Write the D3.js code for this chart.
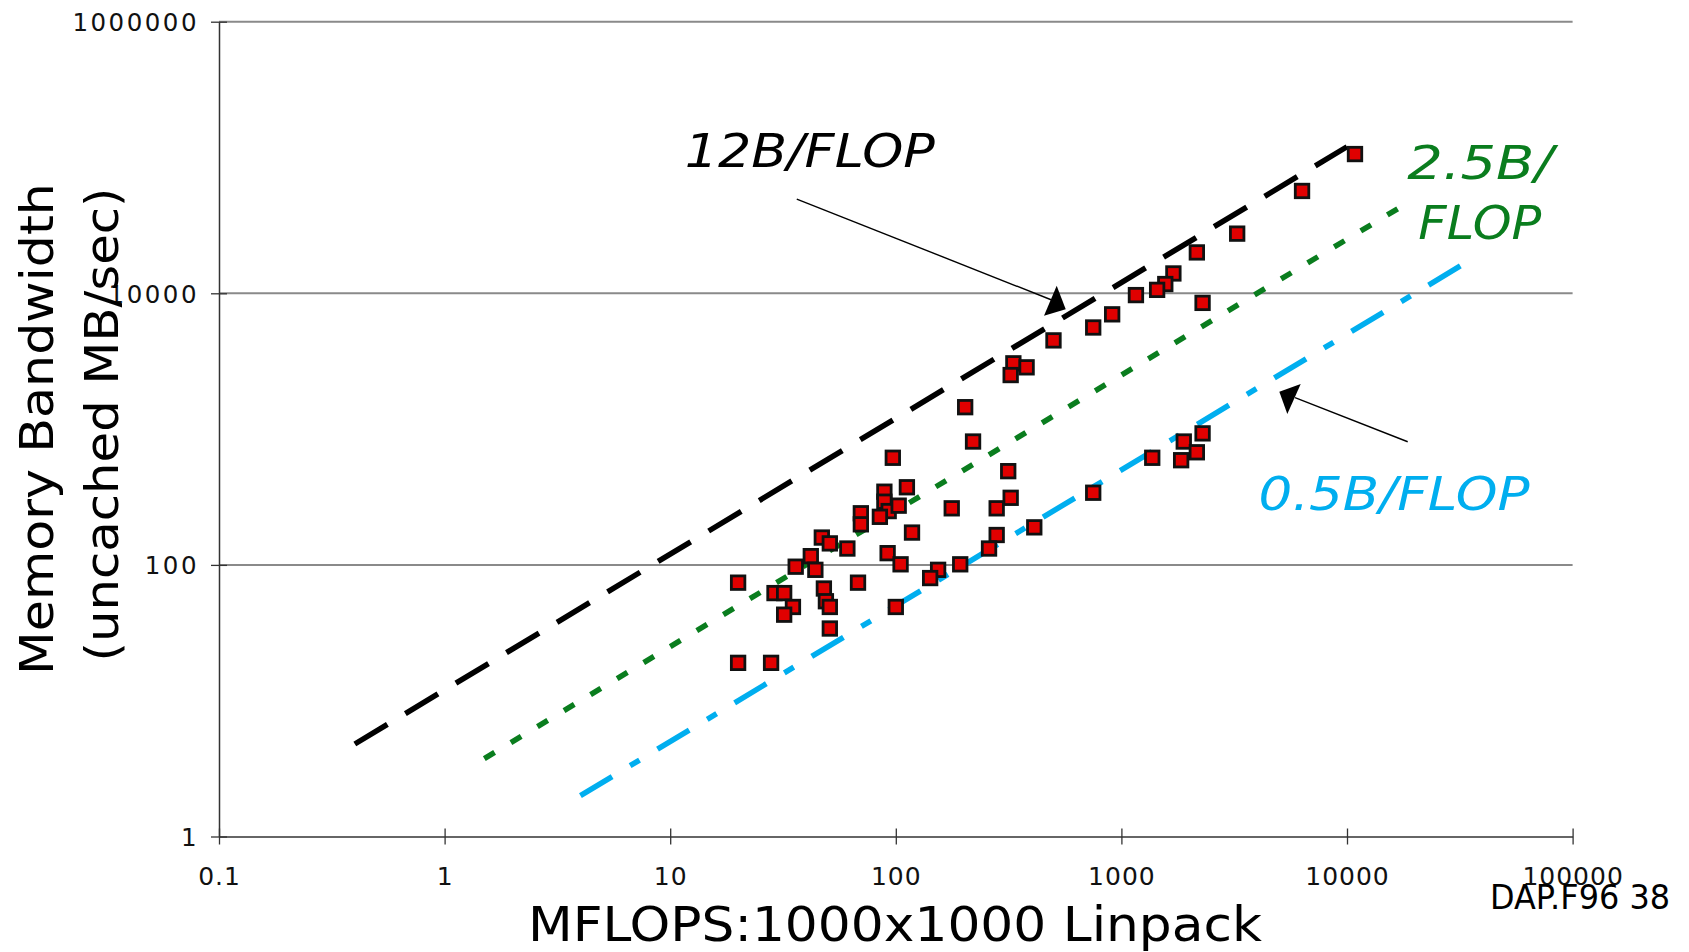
<!DOCTYPE html>
<html>
<head>
<meta charset="utf-8">
<script src="https://cdn.jsdelivr.net/npm/d3@7"></script>
<style>
  body { margin: 0; background: #fff; }
  text { font-family: "DejaVu Sans", Verdana, sans-serif; }
</style>
</head>
<body>
<div id="chart"></div>
<script>
// machines: Linpack MFLOPS vs. uncached memory bandwidth (MB/sec)
const mflops = [
    220, 97, 315, 112, 89, 89, 93, 85, 103, 323,
    177, 280, 70, 70, 750, 118, 411, 280, 259, 47,
    51, 61, 42, 36, 44, 92, 105, 154, 142, 193,
    20, 68, 48, 29, 32, 49, 51, 35, 32, 100,
    51, 20, 28, 332, 380, 323, 203, 3260, 2160, 1700,
    1565, 1440, 1160, 2290, 910, 750, 500, 2290, 1890, 2160,
    1370, 1840, 10850, 6320
];
const bandwidth = [
    810, 615, 490, 373, 346, 292, 249, 226, 273, 312,
    261, 261, 240, 199, 340, 173, 189, 166, 132, 159,
    144, 132, 116, 97, 92, 122, 101, 92, 80, 101,
    74, 74, 67, 62, 62, 54, 49, 49, 43, 49,
    34, 19, 19, 3050, 2850, 2500, 1450, 27500, 20000, 14000,
    11700, 10600, 9700, 8500, 7000, 5600, 4500, 930, 810, 675,
    615, 590, 106000, 56700
];

// reference lines: bytes per flop and the MFLOPS range each one covers
const ruleNames = ["12B/FLOP", "2.5B/FLOP", "0.5B/FLOP"];
const bytesPerFlop = [12, 2.5, 0.5];
const ruleStart = [0.4, 1.5, 4];
const ruleEnd = [10000, 18500, 37000];

const xTicks = [0.1, 1, 10, 100, 1000, 10000, 100000];
const xTickLabels = ["0.1", "1", "10", "100", "1000", "10000", "100000"];
const yTicks = [1, 100, 10000, 1000000];
const yTickLabels = ["1", "100", "10000", "1000000"];

class LogScatterD3 {
    constructor(width, height) {
        this.width = width;
        this.height = height;
        this.left = 219;
        this.right = 1572.6;
        this.top = 21.7;
        this.bottom = 836.5;
    }

    plot(element_id) {
        this.svg = d3.select(element_id).append("svg")
            .attr("width", this.width).attr("height", this.height)
            .style("background", "#fff");
        this._setScale();
        this._addGrid();
        this._addAxis();
        this._addRules();
        this._addPoints();
        this._addAnnotations();
        this._addTitles();
    }

    _setScale() {
        this.xScale = d3.scaleLog().domain([0.1, 100000]).range([this.left, this.right]);
        this.yScale = d3.scaleLog().domain([1, 1000000]).range([this.bottom, this.top]);
    }

    _addGrid() {
        let y = this.yScale;
        this.svg.append("g")
            .selectAll("line")
            .data(yTicks.slice(1))
            .enter()
            .append("line")
            .attr("x1", this.left).attr("x2", this.right)
            .attr("y1", d => y(d)).attr("y2", d => y(d))
            .attr("stroke", "#8a8a8a")
            .attr("stroke-width", 2);
    }

    _addAxis() {
        this.svg.append("g")
            .attr("transform", "translate(0," + this.bottom + ")")
            .call(d3.axisBottom(this.xScale).tickValues(xTicks)
                .tickFormat((d, i) => xTickLabels[i]).tickSizeInner(8).tickSizeOuter(0))
            .call(g => g.select(".domain").attr("stroke", "#333").attr("stroke-width", 1.5))
            .call(g => g.selectAll(".tick line").attr("y1", -8).attr("stroke", "#333").attr("stroke-width", 1.3))
            .call(g => g.selectAll(".tick text").attr("y", 48).attr("dy", 0)
                .attr("font-size", 25).attr("letter-spacing", 1).attr("fill", "#111")
                .attr("font-family", "DejaVu Sans"));

        this.svg.append("g")
            .attr("transform", "translate(" + this.left + ",0)")
            .call(d3.axisLeft(this.yScale).tickValues(yTicks)
                .tickFormat((d, i) => yTickLabels[i]).tickSizeInner(8).tickSizeOuter(0))
            .call(g => g.select(".domain").attr("stroke", "#333").attr("stroke-width", 1.5))
            .call(g => g.selectAll(".tick line").attr("x1", 8).attr("stroke", "#333").attr("stroke-width", 1.3))
            .call(g => g.selectAll(".tick text").attr("x", -20).attr("dy", "0.36em")
                .attr("font-size", 24.5).attr("letter-spacing", 2.5).attr("fill", "#111")
                .attr("font-family", "DejaVu Sans"));
    }

    _addRules() {
        let x = this.xScale, y = this.yScale;
        let colors = ["#000000", "#0a7d1e", "#00aeef"];
        let dashes = ["38 21", "12 19", "37 21 11 21"];
        let line = d3.line().x(d => x(d[0])).y(d => y(d[1]));
        bytesPerFlop.forEach((b, i) => {
            this.svg.append("path")
                .datum([[ruleStart[i], b * ruleStart[i]], [ruleEnd[i], b * ruleEnd[i]]])
                .attr("d", line)
                .attr("fill", "none")
                .attr("stroke", colors[i])
                .attr("stroke-width", 5.5)
                .attr("stroke-dasharray", dashes[i]);
        });
    }

    _addPoints() {
        let x = this.xScale, y = this.yScale;
        let s = 13.5;
        this.svg.append("g")
            .selectAll("rect")
            .data(mflops.map((m, i) => [m, bandwidth[i]]))
            .enter()
            .append("rect")
            .attr("x", d => x(d[0]) - s / 2)
            .attr("y", d => y(d[1]) - s / 2)
            .attr("width", s).attr("height", s)
            .attr("fill", "#e00000")
            .attr("stroke", "#111")
            .attr("stroke-width", 2.8);
    }

    _addAnnotations() {
        let x = this.xScale, y = this.yScale;
        // arrows, anchored in data space; heads are pixel offsets from the tip
        let arrows = [
            { from: [36.4, 49400], to: [491, 8930], head: [[5, -14.3], [-7.7, 15.7], [14, 9.3]] },
            { from: [18580, 807], to: [5883, 1703], head: [[5.7, -13.7], [-15.7, -6], [-7.7, 16.3]] }
        ];
        arrows.forEach(a => {
            let x2 = x(a.to[0]), y2 = y(a.to[1]);
            this.svg.append("line")
                .attr("x1", x(a.from[0])).attr("y1", y(a.from[1]))
                .attr("x2", x2).attr("y2", y2)
                .attr("stroke", "#000").attr("stroke-width", 1.4);
            this.svg.append("polygon")
                .attr("points", a.head.map(p => (x2 + p[0]) + "," + (y2 + p[1])).join(" "))
                .attr("fill", "#000");
        });

        let labels = [
            { text: "12B/FLOP", at: [11.6, 85500], color: "#000", len: 250 },
            { text: "2.5B/", at: [18500, 69450], color: "#0a7d1e", len: 146 },
            { text: "FLOP", at: [20700, 24990], color: "#0a7d1e", len: 123 },
            { text: "0.5B/FLOP", at: [4050, 253.6], color: "#00aeef", len: 271 }
        ];
        this.svg.append("g")
            .selectAll("text")
            .data(labels)
            .enter()
            .append("text")
            .attr("x", d => x(d.at[0]))
            .attr("y", d => y(d.at[1]))
            .attr("font-size", 47)
            .attr("font-style", "italic")
            .attr("fill", d => d.color)
            .attr("textLength", d => d.len)
            .attr("lengthAdjust", "spacingAndGlyphs")
            .text(d => d.text);
    }

    _addTitles() {
        this.svg.append("text")
            .attr("x", 528).attr("y", 941)
            .attr("font-size", 48)
            .attr("fill", "#000")
            .attr("textLength", 734).attr("lengthAdjust", "spacingAndGlyphs")
            .text("MFLOPS:1000x1000 Linpack");

        let yTitle = this.svg.append("g").attr("transform", "rotate(-90)");
        yTitle.append("text")
            .attr("x", -429).attr("y", 53)
            .attr("text-anchor", "middle")
            .attr("font-size", 47)
            .attr("textLength", 492).attr("lengthAdjust", "spacingAndGlyphs")
            .text("Memory Bandwidth");
        yTitle.append("text")
            .attr("x", -424.5).attr("y", 118)
            .attr("text-anchor", "middle")
            .attr("font-size", 47)
            .attr("textLength", 474).attr("lengthAdjust", "spacingAndGlyphs")
            .text("(uncached MB/sec)");

        this.svg.append("text")
            .attr("x", 1490).attr("y", 909)
            .attr("font-size", 34)
            .attr("font-family", "'Liberation Sans Narrow', 'Liberation Sans', Arial, sans-serif")
            .attr("textLength", 180).attr("lengthAdjust", "spacingAndGlyphs")
            .text("DAP.F96  38");
    }
}

let chart = new LogScatterD3(1689, 952);
chart.plot("#chart");
</script>
</body>
</html>
